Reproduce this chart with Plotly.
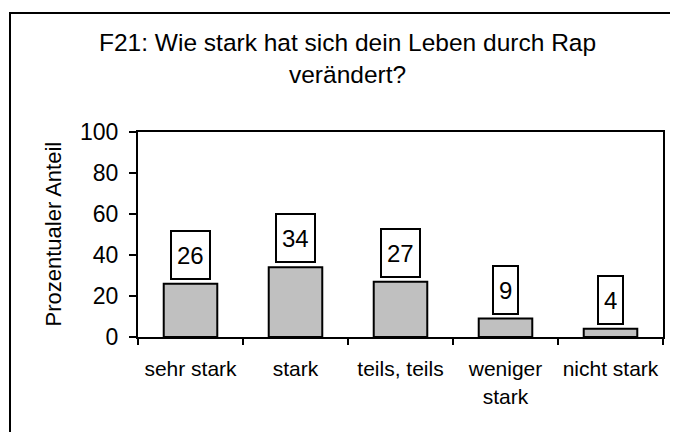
import plotly.graph_objects as go

categories = ["sehr stark", "stark", "teils, teils", "weniger<br>stark", "nicht stark"]
values = [26, 34, 27, 9, 4]
y_ticks = [0, 20, 40, 60, 80, 100]

OFF = 8  # default page body margin
W, H = 670, 424
# plot area in window pixels: x 138..663, y 132..337
L, T = 138 - OFF, 132 - OFF
R, B = W - (663 - OFF), H - (337 - OFF)
pw, ph = W - L - R, H - T - B
FONT = "Liberation Sans, Arial, sans-serif"

def px_x(x):
    return (x - OFF - L) / pw

def px_y(y):
    return (H - B - (y - OFF)) / ph

fig = go.Figure()
fig.add_trace(go.Bar(
    x=categories, y=values,
    marker=dict(color="#c0c0c0", line=dict(color="black", width=2)),
    width=0.51, hoverinfo="skip",
))

annotations = []
for c, v in zip(categories, values):
    annotations.append(dict(
        x=c, y=v, xref="x", yref="y", text=str(v), showarrow=False,
        yanchor="bottom", yshift=4, font=dict(family=FONT, size=24, color="black"),
        bgcolor="white", bordercolor="black", borderwidth=2, borderpad=5, height=36,
    ))
annotations.append(dict(
    x=px_x(347), y=px_y(27), xref="paper", yref="paper", xanchor="center", yanchor="top",
    text="F21: Wie stark hat sich dein Leben durch Rap<br>verändert?", showarrow=False,
    font=dict(family=FONT, size=24.5, color="black"), align="center",
))
annotations.append(dict(
    x=px_x(53), y=0.5, xref="paper", yref="paper", xanchor="center", yanchor="middle",
    text="Prozentualer Anteil", textangle=-90, showarrow=False,
    font=dict(family=FONT, size=22, color="black"),
))

fig.update_layout(
    width=W, height=H, margin=dict(l=L, r=R, t=T, b=B, autoexpand=False),
    paper_bgcolor="white", plot_bgcolor="white", showlegend=False,
    annotations=annotations,
    font=dict(family=FONT, color="black"),
    shapes=[dict(type="rect", xref="paper", yref="paper",
                 x0=px_x(10), x1=px_x(700), y0=px_y(13), y1=px_y(460),
                 line=dict(color="black", width=2), layer="below")],
)
fig.update_xaxes(
    showgrid=False, showline=True, linecolor="black", linewidth=2, mirror=True,
    ticks="outside", tickson="boundaries", ticklen=6, tickwidth=2, tickcolor="black",
    tickangle=0, automargin=False, ticklabelstandoff=12,
    tickfont=dict(family=FONT, size=21, color="black"), fixedrange=True,
)
fig.update_yaxes(
    range=[0, 100], tickvals=y_ticks, showgrid=False, zeroline=False,
    showline=True, linecolor="black", linewidth=2, mirror=True,
    ticks="outside", ticklen=7, tickwidth=2, tickcolor="black", automargin=False,
    tickfont=dict(family=FONT, size=23, color="black"), ticklabelstandoff=6,
    fixedrange=True,
)
fig.write_html("out.html", config={"displayModeBar": False})
